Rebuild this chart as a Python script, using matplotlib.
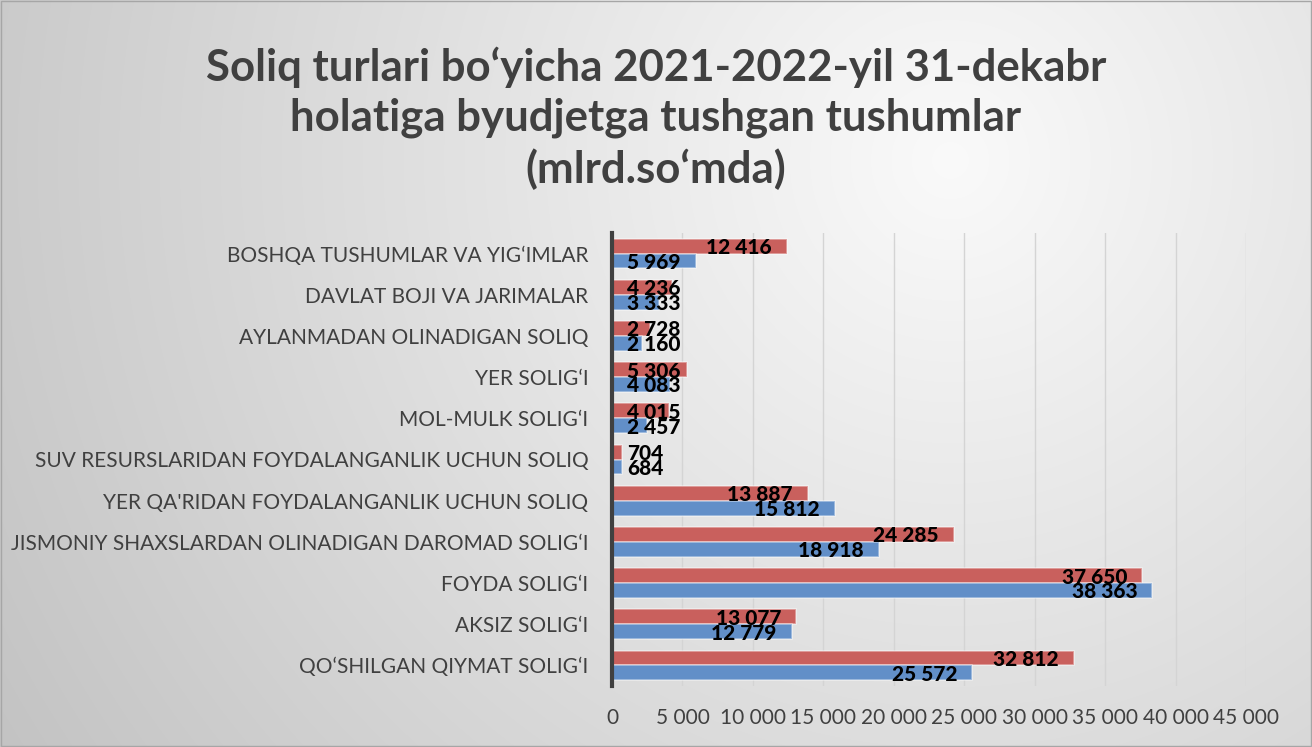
import numpy as np
import matplotlib.pyplot as plt

# kategoriyalar (pastdan yuqoriga)
kategoriyalar = [
    "QO‘SHILGAN QIYMAT SOLIG‘I",
    "AKSIZ SOLIG‘I",
    "FOYDA SOLIG‘I",
    "JISMONIY SHAXSLARDAN OLINADIGAN DAROMAD SOLIG‘I",
    "YER QA'RIDAN FOYDALANGANLIK UCHUN SOLIQ",
    "SUV RESURSLARIDAN FOYDALANGANLIK UCHUN SOLIQ",
    "MOL-MULK SOLIG‘I",
    "YER SOLIG‘I",
    "AYLANMADAN OLINADIGAN SOLIQ",
    "DAVLAT BOJI VA JARIMALAR",
    "BOSHQA TUSHUMLAR VA YIG‘IMLAR",
]
yil_2022 = [32812, 13077, 37650, 24285, 13887, 704, 4015, 5306, 2728, 4236, 12416]
yil_2021 = [25572, 12779, 38363, 18918, 15812, 684, 2457, 4083, 2160, 3333, 5969]
x_ticks = [0, 5000, 10000, 15000, 20000, 25000, 30000, 35000, 40000, 45000]

sarlavha = "Soliq turlari bo‘yicha 2021-2022-yil 31-dekabr\nholatiga byudjetga tushgan tushumlar\n(mlrd.so‘mda)"

W, H = 1312, 747
fig = plt.figure(figsize=(W / 100, H / 100), dpi=100)

# fon - radial gradient
bg = fig.add_axes([0, 0, 1, 1])
yy, xx = np.mgrid[0:H, 0:W]
d = np.sqrt((xx - 950) ** 2 + (yy - 160) ** 2)
v = np.clip(0.98 - 0.19 * d / 985, 0, 1)
bg.imshow(np.dstack([v, v, v]), aspect='auto', extent=[0, 1, 0, 1])
bg.add_patch(plt.Rectangle((0.001, 0.001), 0.998, 0.997, fill=False, ec='#A6A6A6', lw=1))
bg.set_axis_off()

ax = fig.add_axes([612 / W, 1 - 686 / H, (1246 - 612) / W, (686 - 233) / H])
ax.patch.set_alpha(0)

y = np.arange(len(kategoriyalar))
h = 0.36
qizil = '#C9605D'
kok = '#628FC8'
ax.barh(y + h / 2, yil_2022, height=h, color=qizil, edgecolor=(1, 1, 1, 0.45), lw=1.2, zorder=3)
ax.barh(y - h / 2, yil_2021, height=h, color=kok, edgecolor=(1, 1, 1, 0.45), lw=1.2, zorder=3)

ax.set_xlim(0, 45000)
ax.set_ylim(-0.5, len(kategoriyalar) - 0.5)
ax.set_xticks(x_ticks)
ax.set_xticklabels([f"{t:,}".replace(",", " ") for t in x_ticks])
ax.set_yticks(y)
ax.set_yticklabels(kategoriyalar)
ax.tick_params(axis='x', length=0, pad=16, labelsize=15, labelcolor='#404040')
ax.tick_params(axis='y', length=0, pad=17, labelsize=15, labelcolor='#404040')
for lbl in ax.get_xticklabels() + ax.get_yticklabels():
    lbl.set_family('Lato')

ax.grid(axis='x', color='#D4D4D4', lw=1, zorder=0)
for s in ['top', 'right', 'bottom']:
    ax.spines[s].set_visible(False)
ax.spines['left'].set_color('#404040')
ax.spines['left'].set_linewidth(3)
ax.spines['left'].set_zorder(4)


def yozuv(qiymatlar, pos):
    for yi, val in zip(pos, qiymatlar):
        matn = f"{val:,}".replace(",", " ")
        if val < 6500:
            ax.annotate(matn, (0, yi), xytext=(11, -1), textcoords='offset points',
                        ha='left', va='center', fontsize=15, fontweight='black',
                        family='Lato', zorder=5)
        else:
            ax.annotate(matn, (val, yi), xytext=(-11, -1), textcoords='offset points',
                        ha='right', va='center', fontsize=15, fontweight='black',
                        family='Lato', zorder=5)


yozuv(yil_2022, y + h / 2)
yozuv(yil_2021, y - h / 2)

fig.text(0.5, 1 - 118 / H, sarlavha, ha='center', va='center', fontsize=31.5,
         fontweight='bold', color='#404040', family='Lato', linespacing=1.3)

fig.savefig('out.png', dpi=100)
